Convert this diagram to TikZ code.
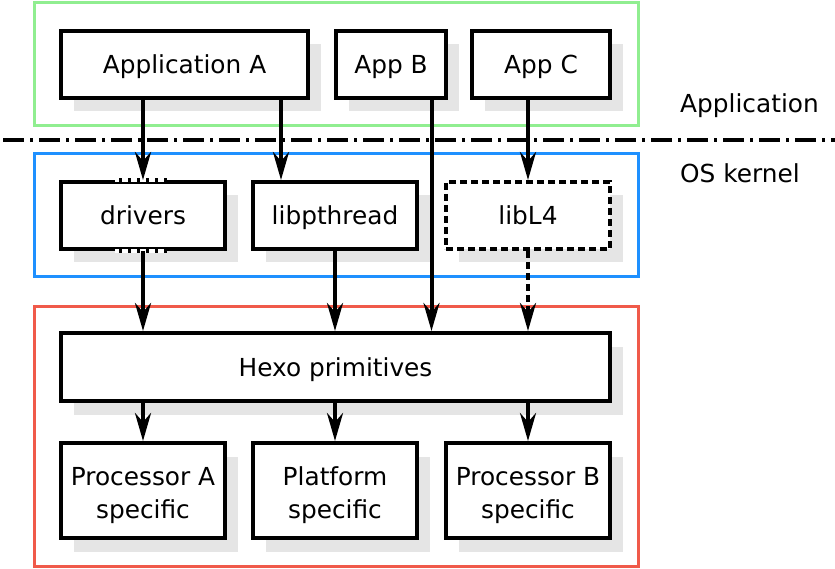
\documentclass[tikz,border=0pt]{standalone}
\usepackage{fontspec}
\setmainfont{DejaVu Sans}
\usetikzlibrary{arrows.meta,shadows}
\definecolor{shadowgray}{RGB}{229,229,229}
\definecolor{appgreen}{RGB}{144,238,144}
\definecolor{osblue}{RGB}{30,144,255}
\definecolor{hwred}{RGB}{240,90,74}
\tikzset{
  box/.style={draw=black, line width=4pt, fill=white, rectangle, inner sep=0pt,
    align=center, font=\fontsize{24.8}{33}\selectfont,
    drop shadow={shadow xshift=12.5pt, shadow yshift=-13.5pt, fill=shadowgray, opacity=1}},
  oneline/.style={text height=21pt, text depth=2pt},
  twoline/.style={text height=56pt, text depth=0pt},
  dashbox/.style={box, dash pattern=on 7pt off 4pt},
  container/.style={line width=3pt},
  arr/.style={line width=4pt, -{Stealth[length=28pt,width=16pt,inset=9pt]}},
  dotarr/.style={arr, dash pattern=on 7pt off 4pt},
  lbl/.style={font=\fontsize{24.8}{28}\selectfont, anchor=west, inner sep=0pt},
}
\begin{document}
\begin{tikzpicture}[x=1pt,y=-1pt]
\useasboundingbox (0,0) rectangle (835,569);
% containers
\draw[container, draw=appgreen] (34,3) rectangle (638,126);
\draw[container, draw=osblue] (34,154) rectangle (638,277);
\draw[container, draw=hwred] (34,306) rectangle (638,566);
% separator
\draw[line width=3.5pt, dash pattern=on 21pt off 6pt on 3pt off 6pt] (3,140) -- (835,140);
\node[lbl] (lapp) at (680,105.5) {Application};
\node[lbl] (los) at (680,173) {OS kernel};
% boxes
\node[box, oneline, minimum width=247pt, minimum height=67pt] (appA) at (184.5,64.5) {Application A};
\node[box, oneline, minimum width=110pt, minimum height=67pt] (appB) at (391,64.5) {App B};
\node[box, oneline, minimum width=138pt, minimum height=67pt] (appC) at (541,64.5) {App C};
\node[box, oneline, minimum width=164pt, minimum height=67pt] (drivers) at (143,215.5) {drivers};
\node[box, oneline, minimum width=164pt, minimum height=67pt] (libp) at (335,215.5) {libpthread};
\node[dashbox, oneline, minimum width=164pt, minimum height=67pt] (libL4) at (528,215.5) {libL4};
\node[box, oneline, minimum width=549pt, minimum height=68pt] (hexo) at (335.5,367) {Hexo primitives};
\node[box, twoline, minimum width=164pt, minimum height=95pt] (procA) at (143,490.5) {Processor A\\specific};
\node[box, twoline, minimum width=164pt, minimum height=95pt] (plat) at (335,490.5) {Platform\\specific};
\node[box, twoline, minimum width=164pt, minimum height=95pt] (procB) at (528,490.5) {Processor B\\specific};
% dotted gaps on drivers
\draw[white, line width=4.6pt] ([xshift=-28pt]drivers.north) -- ([xshift=23pt]drivers.north);
\draw[white, line width=4.6pt] ([xshift=-28pt]drivers.south) -- ([xshift=23pt]drivers.south);
\draw[line width=4pt, dash pattern=on 3pt off 6pt] ([xshift=-24pt]drivers.north) -- ([xshift=24pt]drivers.north);
\draw[line width=4pt, dash pattern=on 3pt off 6pt] ([xshift=-24pt]drivers.south) -- ([xshift=24pt]drivers.south);
% helper x positions
\coordinate (xlibp) at (281,0);
\coordinate (xappB) at (431.5,0);
% arrows
\draw[arr] (appA.south -| drivers.north) -- (drivers.north);
\draw[arr] (appA.south -| xlibp) -- (libp.north -| xlibp);
\draw[arr] (appB.south -| xappB) -- (hexo.north -| xappB);
\draw[arr] (appC.south -| libL4.north) -- (libL4.north);
\draw[arr] (drivers.south) -- (hexo.north -| drivers.south);
\draw[arr] (libp.south) -- (hexo.north -| libp.south);
\draw[dotarr] (libL4.south) -- (hexo.north -| libL4.south);
\draw[arr] (hexo.south -| procA.north) -- (procA.north);
\draw[arr] (hexo.south -| plat.north) -- (plat.north);
\draw[arr] (hexo.south -| procB.north) -- (procB.north);
\end{tikzpicture}
\end{document}
